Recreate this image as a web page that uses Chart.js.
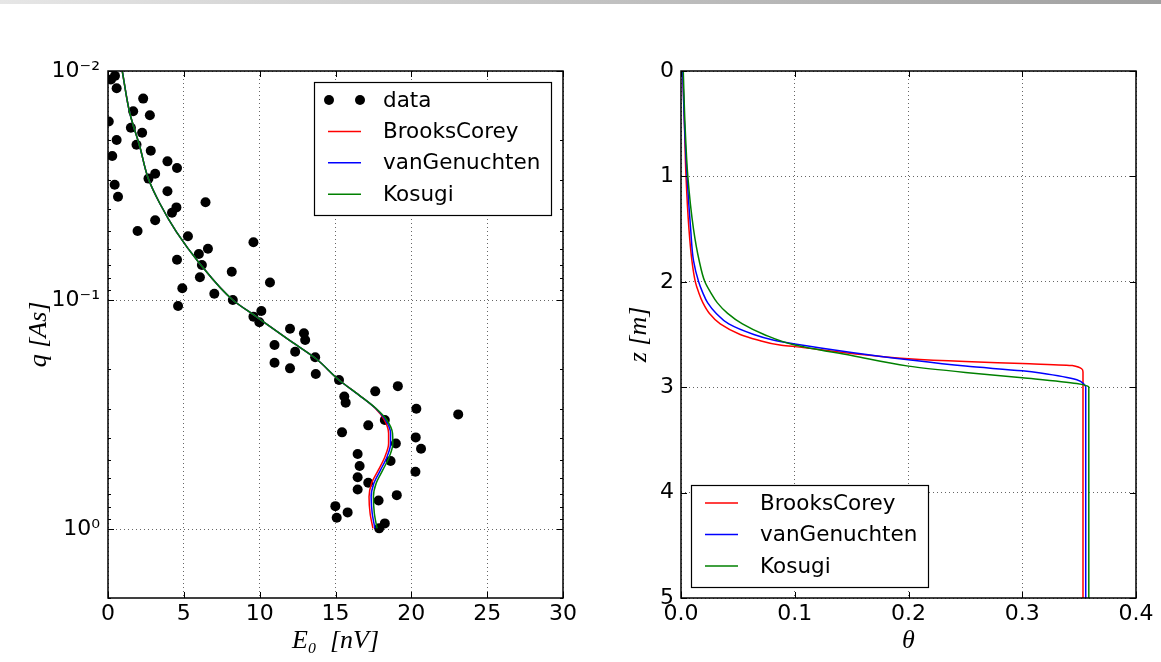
<!DOCTYPE html>
<html>
<head>
<meta charset="utf-8">
<script src="https://cdn.jsdelivr.net/npm/chart.js@4.4.1/dist/chart.umd.min.js"></script>
<style>
  html, body { margin: 0; padding: 0; background: #fff; }
  #bar { position: absolute; left: 0; top: 0; width: 1161px; height: 4px;
         background: linear-gradient(to right, #e6e6e6, #a0a0a0); }
  #left { position: absolute; left: 0; top: 0; }
  #right { position: absolute; left: 580px; top: 0; }
</style>
</head>
<body>
<div id="bar"></div>
<canvas id="left" width="580" height="662"></canvas>
<canvas id="right" width="581" height="662"></canvas>
<script>
// ---- left panel: measured data ----
const dataE0 = [0.46, 0.20, 0.57, 2.32, 1.66, 2.76, 1.51, 2.25, 0.05, 0.57, 1.88, 2.82, 0.28, 3.92, 4.55,
  3.11, 2.67, 0.44, 0.66, 3.92, 4.51, 4.22, 6.43, 3.11, 1.95, 5.27, 9.59, 5.99, 6.59, 4.55, 6.19, 8.16,
  6.06, 10.68, 4.90, 7.01, 8.23, 4.62, 9.59, 10.11, 9.98, 12.0, 12.92, 13.0, 10.98, 12.34, 13.66, 10.98,
  12.0, 13.70, 15.23, 17.62, 19.11, 15.58, 15.67, 20.33, 23.09, 18.25, 17.16, 15.43, 20.29, 18.98, 20.64,
  16.46, 18.63, 16.59, 20.27, 16.46, 17.16, 16.46, 19.04, 17.84, 14.99, 15.80, 15.08, 18.25, 17.88];
const dataQ = [0.0105, 0.0109, 0.0119, 0.0132, 0.0150, 0.0156, 0.0177, 0.0186, 0.0166, 0.0200, 0.0210,
  0.0223, 0.0235, 0.0248, 0.0265, 0.0281, 0.0295, 0.0314, 0.0354, 0.0335, 0.0394, 0.0416, 0.0374, 0.0448,
  0.0500, 0.0527, 0.0559, 0.0629, 0.0597, 0.0667, 0.0703, 0.0752, 0.0796, 0.0838, 0.0889, 0.0938, 0.100,
  0.1062, 0.1182, 0.1117, 0.1251, 0.1334, 0.1396, 0.1495, 0.1573, 0.1683, 0.1779, 0.1879, 0.1988, 0.2104,
  0.2235, 0.2505, 0.2377, 0.2640, 0.2806, 0.2985, 0.3158, 0.3342, 0.3525, 0.3782, 0.3979, 0.4229, 0.4460,
  0.470, 0.5045, 0.5305, 0.5620, 0.5945, 0.628, 0.6714, 0.7110, 0.750, 0.7943, 0.8458, 0.893, 0.9445, 0.993];

// fitted curves (shared q, separate E0)
const fitQ = [0.01, 0.0153, 0.0214, 0.0294, 0.0378, 0.0504, 0.0692, 0.1, 0.118, 0.1496, 0.180, 0.2234,
  0.260, 0.297, 0.334, 0.382, 0.423, 0.483, 0.552, 0.631, 0.723, 0.853, 0.993];
const bcE0 = [0.94, 1.44, 2.10, 2.65, 3.41, 4.51, 6.04, 8.23, 9.76, 11.95, 13.70, 15.23, 16.55, 17.62,
  18.22, 18.50, 18.50, 18.26, 17.83, 17.38, 17.21, 17.28, 17.47];
const vgE0 = [0.94, 1.44, 2.10, 2.65, 3.41, 4.51, 6.04, 8.23, 9.76, 11.95, 13.70, 15.23, 16.55, 17.64,
  18.30, 18.63, 18.63, 18.40, 17.97, 17.53, 17.35, 17.42, 17.60];
const koE0 = [0.94, 1.44, 2.10, 2.65, 3.41, 4.51, 6.04, 8.23, 9.76, 11.95, 13.70, 15.23, 16.55, 17.66,
  18.38, 18.76, 18.78, 18.55, 18.12, 17.68, 17.50, 17.56, 17.74];

const leftXTicks = [0, 5, 10, 15, 20, 25, 30];
const leftYTicks = [0.01, 0.1, 1];
const leftYTickLabels = ['10⁻²', '10⁻¹', '10⁰'];
const leftYMinor = [0.02, 0.03, 0.04, 0.05, 0.06, 0.07, 0.08, 0.09, 0.2, 0.3, 0.4, 0.5, 0.6, 0.7, 0.8, 0.9, 2];

// ---- right panel: water content profiles ----
const bcTheta = [0.0015, 0.003, 0.0044, 0.007, 0.0096, 0.0126, 0.0155, 0.0193, 0.025, 0.0345, 0.052, 0.0667,
  0.087, 0.1, 0.15, 0.2, 0.25, 0.3, 0.344, 0.3534, 0.3534];
const bcZ = [0, 0.5, 1.0, 1.5, 1.8, 2.0, 2.1, 2.2, 2.3, 2.4, 2.5, 2.55, 2.6, 2.615, 2.68, 2.73, 2.757, 2.776,
  2.795, 2.855, 5.0];
const vgTheta = [0.0015, 0.003, 0.0053, 0.0085, 0.011, 0.0155, 0.019, 0.0235, 0.031, 0.042, 0.064, 0.08, 0.1,
  0.15, 0.2, 0.25, 0.3, 0.316, 0.348, 0.3545, 0.3558, 0.3558];
const vgZ = [0, 0.5, 1.0, 1.5, 1.8, 2.0, 2.1, 2.2, 2.3, 2.4, 2.5, 2.55, 2.59, 2.67, 2.74, 2.80, 2.845, 2.866,
  2.93, 2.975, 3.0, 5.0];
const koTheta = [0.002, 0.0035, 0.006, 0.011, 0.016, 0.021, 0.026, 0.032, 0.041, 0.054, 0.073, 0.1, 0.15, 0.2,
  0.25, 0.3, 0.348, 0.3575, 0.3585, 0.3585];
const koZ = [0, 0.5, 1.0, 1.5, 1.8, 2.0, 2.1, 2.2, 2.3, 2.4, 2.5, 2.6, 2.7, 2.8, 2.86, 2.91, 2.965, 2.99, 3.0, 5.0];

const rightXTicks = [0, 0.1, 0.2, 0.3, 0.4];
const rightYTicks = [0, 1, 2, 3, 4, 5];

const seriesNames = ['BrooksCorey', 'vanGenuchten', 'Kosugi'];
const seriesColors = ['#ff0000', '#0000ff', '#008000'];

Chart.defaults.font.family = "'DejaVu Sans', sans-serif";
Chart.defaults.color = '#000';
Chart.defaults.animation = false;

const pts = (xs, ys) => xs.map((x, i) => ({ x: x, y: ys[i] }));

// frame + matplotlib style inward ticks on all four sides
const framePlugin = {
  id: 'frame',
  afterDatasetsDraw(chart, args, opts) {
    const { ctx, chartArea: a } = chart;
    const xs = chart.scales.x, ys = chart.scales.y;
    ctx.save();
    ctx.setLineDash([]);
    ctx.strokeStyle = '#000';
    ctx.lineWidth = 1;
    const tick = (x1, y1, x2, y2) => { ctx.beginPath(); ctx.moveTo(x1, y1); ctx.lineTo(x2, y2); ctx.stroke(); };
    xs.ticks.forEach(t => {
      const px = Math.round(xs.getPixelForValue(t.value)) + 0.5;
      tick(px, a.bottom, px, a.bottom - 6);
      tick(px, a.top, px, a.top + 6);
    });
    ys.ticks.forEach(t => {
      const py = Math.round(ys.getPixelForValue(t.value)) + 0.5;
      tick(a.left, py, a.left + 6, py);
      tick(a.right, py, a.right - 6, py);
    });
    (opts.minorY || []).forEach(v => {
      const py = Math.round(ys.getPixelForValue(v)) + 0.5;
      tick(a.left, py, a.left + 3, py);
      tick(a.right, py, a.right - 3, py);
    });
    ctx.lineWidth = 1.5;
    ctx.strokeRect(a.left, a.top, a.right - a.left, a.bottom - a.top);
    ctx.restore();
  }
};

// legend box inside the axes, drawn from the datasets
const boxLegend = {
  id: 'boxLegend',
  afterDraw(chart, args, o) {
    const ctx = chart.ctx;
    const sets = chart.data.datasets;
    ctx.save();
    ctx.fillStyle = '#fff';
    ctx.fillRect(o.x, o.y, o.w, o.h);
    ctx.strokeStyle = '#000';
    ctx.lineWidth = 1.2;
    ctx.strokeRect(o.x + 0.5, o.y + 0.5, o.w, o.h);
    ctx.font = "21.5px 'DejaVu Sans'";
    ctx.textBaseline = 'middle';
    sets.forEach((ds, i) => {
      const cy = o.y + o.first + i * o.row;
      if (ds.showLine === false) {
        ctx.fillStyle = '#000';
        [o.x + 15, o.x + 46].forEach(cx => {
          ctx.beginPath(); ctx.arc(cx, cy, 5, 0, Math.PI * 2); ctx.fill();
        });
      } else {
        ctx.strokeStyle = ds.borderColor;
        ctx.lineWidth = 1.5;
        ctx.beginPath(); ctx.moveTo(o.x + 14, cy); ctx.lineTo(o.x + 47, cy); ctx.stroke();
      }
      ctx.fillStyle = '#000';
      ctx.fillText(ds.label, o.x + 69, cy + 1);
    });
    ctx.restore();
  }
};

const gridOpts = { color: 'rgba(0,0,0,0.6)', lineWidth: 1, drawTicks: false };
const borderOpts = { display: false, dash: [1, 3] };
const tickFont = { size: 22 };
const titleFont = { family: "'Liberation Serif', serif", style: 'italic', size: 26 };

// curves are monotone in their y value, so interpolate along y
const fitLine = (label, data, i) => ({
  label: label, data: data, showLine: true, pointRadius: 0, indexAxis: 'y',
  cubicInterpolationMode: 'monotone', borderColor: seriesColors[i], borderWidth: 1.5, order: 3 - i
});

new Chart(document.getElementById('left'), {
  type: 'scatter',
  data: {
    datasets: [
      { label: 'data', data: pts(dataE0, dataQ), showLine: false, pointRadius: 5,
        pointBackgroundColor: '#000', pointBorderColor: '#000', pointBorderWidth: 0, order: 4 },
      ...[bcE0, vgE0, koE0].map((xs, i) => fitLine(seriesNames[i], pts(xs, fitQ), i))
    ]
  },
  options: {
    responsive: false,
    layout: { padding: { top: 71, right: 15, left: 0, bottom: 0 } },
    plugins: {
      legend: { display: false }, tooltip: { enabled: false },
      frame: { minorY: leftYMinor },
      boxLegend: { x: 314, y: 82, w: 237, h: 133, first: 18, row: 31.4 }
    },
    scales: {
      x: {
        type: 'linear', min: 0, max: 30,
        afterBuildTicks: sc => { sc.ticks = leftXTicks.map(v => ({ value: v })); },
        afterFit: sc => { sc.height = 64; },
        grid: gridOpts, border: borderOpts,
        ticks: { font: tickFont, padding: 3, maxRotation: 0 },
        title: { display: true, text: 'E₀  [nV]', font: titleFont, padding: { bottom: 5 } }
      },
      y: {
        type: 'logarithmic', min: 0.01, max: 2, reverse: true,
        afterBuildTicks: sc => { sc.ticks = leftYTicks.map(v => ({ value: v })); },
        afterFit: sc => { sc.width = 108; },
        grid: gridOpts, border: borderOpts,
        ticks: { font: tickFont, padding: 8, callback: v => leftYTickLabels[leftYTicks.indexOf(v)] },
        title: { display: true, text: 'q [As]', font: titleFont, padding: { top: 24 } }
      }
    }
  },
  plugins: [framePlugin, boxLegend]
});

new Chart(document.getElementById('right'), {
  type: 'scatter',
  data: {
    datasets: [[bcTheta, bcZ], [vgTheta, vgZ], [koTheta, koZ]].map((p, i) =>
      fitLine(seriesNames[i], pts(p[0], p[1]), i))
  },
  options: {
    responsive: false,
    layout: { padding: { top: 71, right: 25, left: 0, bottom: 0 } },
    plugins: {
      legend: { display: false }, tooltip: { enabled: false },
      frame: {},
      boxLegend: { x: 111, y: 485, w: 237, h: 102, first: 18, row: 31.5 }
    },
    scales: {
      x: {
        type: 'linear', min: 0, max: 0.4,
        afterBuildTicks: sc => { sc.ticks = rightXTicks.map(v => ({ value: v })); },
        afterFit: sc => { sc.height = 64; },
        grid: gridOpts, border: borderOpts,
        ticks: { font: tickFont, padding: 3, maxRotation: 0, callback: v => v.toFixed(1) },
        title: { display: true, text: 'θ', font: titleFont, padding: { bottom: 5 } }
      },
      y: {
        type: 'linear', min: 0, max: 5, reverse: true,
        afterBuildTicks: sc => { sc.ticks = rightYTicks.map(v => ({ value: v })); },
        afterFit: sc => { sc.width = 101; },
        grid: gridOpts, border: borderOpts,
        ticks: { font: tickFont, padding: 7 },
        title: { display: true, text: 'z [m]', font: titleFont, padding: { top: 44 } }
      }
    }
  },
  plugins: [framePlugin, boxLegend]
});
</script>
</body>
</html>
